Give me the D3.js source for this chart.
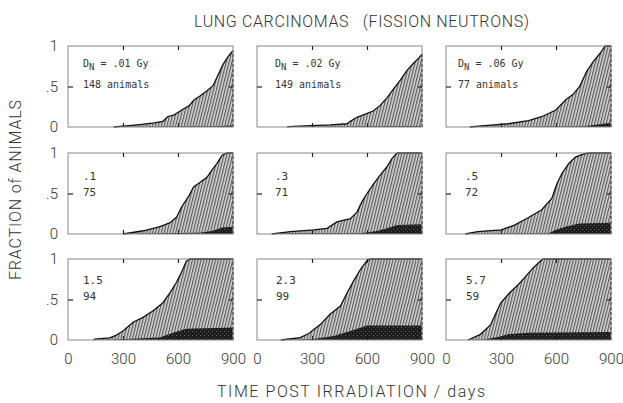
<!DOCTYPE html>
<html>
<head>
<meta charset="utf-8">
<script src="https://cdn.jsdelivr.net/npm/d3@7"></script>
<style>
  body { margin: 0; background: #fff; }
  svg text { font-family: Roboto, "DejaVu Sans", sans-serif; font-weight: 300; fill: #333; }
</style>
</head>
<body>
<svg id="chart" width="623" height="403"></svg>
<script>
const doses = [".01", ".02", ".06", ".1", ".3", ".5", "1.5", "2.3", "5.7"];
const animals = [148, 149, 77, 75, 71, 72, 94, 99, 59];
const xTicks = [0, 300, 600, 900];
const yTicks = [0, 0.5, 1];

// cumulative fraction, [day, fraction] per panel (hatched)
const totalFraction = [
  [[250,0],[300,0.01],[391,0.03],[470,0.05],[518,0.07],[545,0.13],[580,0.15],[620,0.21],[660,0.26],[690,0.34],[718,0.38],[755,0.44],[791,0.51],[818,0.64],[845,0.77],[873,0.87],[891,0.92],[900,0.94]],
  [[165,0],[173,0.005],[291,0.016],[400,0.025],[491,0.04],[509,0.07],[545,0.12],[591,0.16],[636,0.2],[673,0.27],[709,0.36],[745,0.47],[782,0.58],[818,0.7],[855,0.79],[882,0.85],[900,0.9]],
  [[130,0],[228,0.02],[340,0.04],[451,0.08],[525,0.13],[599,0.21],[655,0.34],[692,0.4],[729,0.5],[766,0.68],[804,0.81],[841,0.91],[868,1],[900,1]],
  [[300,0],[411,0.04],[502,0.09],[557,0.14],[593,0.21],[621,0.34],[657,0.46],[685,0.58],[721,0.64],[758,0.7],[785,0.79],[812,0.87],[840,0.97],[867,1],[900,1]],
  [[80,0],[182,0.03],[309,0.05],[382,0.07],[436,0.15],[509,0.19],[545,0.27],[573,0.4],[600,0.5],[636,0.62],[673,0.73],[709,0.83],[736,0.93],[764,1],[900,1]],
  [[105,0],[172,0.03],[301,0.05],[374,0.11],[448,0.2],[522,0.3],[577,0.44],[605,0.62],[633,0.75],[670,0.87],[706,0.95],[752,0.99],[780,1],[900,1]],
  [[140,0],[145,0.01],[227,0.025],[255,0.05],[300,0.11],[355,0.22],[409,0.28],[464,0.36],[518,0.46],[555,0.58],[591,0.71],[618,0.83],[645,0.97],[664,1],[900,1]],
  [[130,0],[236,0.03],[282,0.08],[345,0.19],[400,0.32],[455,0.42],[491,0.58],[527,0.73],[564,0.87],[600,0.98],[618,1],[900,1]],
  [[120,0],[188,0.07],[244,0.19],[270,0.32],[299,0.46],[346,0.58],[392,0.68],[429,0.77],[475,0.89],[512,0.97],[530,1],[900,1]]
];

// dark stippled part at the bottom
const darkFraction = [
  [[250,0],[600,0.005],[800,0.01],[900,0.02]],
  [[165,0],[500,0.005],[900,0.012]],
  [[130,0],[600,0.005],[750,0.01],[830,0.03],[880,0.045],[900,0.05]],
  [[300,0],[500,0.01],[720,0.015],[790,0.04],[840,0.08],[900,0.09]],
  [[80,0],[200,0.01],[550,0.01],[600,0.02],[660,0.04],[709,0.07],[764,0.11],[900,0.12]],
  [[105,0],[559,0.01],[596,0.05],[651,0.09],[725,0.13],[900,0.14]],
  [[140,0],[264,0.005],[500,0.03],[573,0.09],[645,0.14],[900,0.155]],
  [[130,0],[300,0.01],[418,0.05],[509,0.11],[600,0.18],[900,0.18]],
  [[120,0],[207,0.005],[290,0.04],[336,0.07],[447,0.09],[900,0.1]]
];

const svg = d3.select("#chart");

const colX = [68, 257, 446];
const rowY = [46, 153, 259];
const pw = 165, ph = 81;

const x = d3.scaleLinear().domain([0, 900]).range([0, pw]);
const y = d3.scaleLinear().domain([0, 1]).range([ph, 0]);

// fill patterns
const defs = svg.append("defs");
const hatch = defs.append("pattern")
  .attr("id", "hatch")
  .attr("patternUnits", "userSpaceOnUse")
  .attr("width", 2.8).attr("height", 3)
  .attr("patternTransform", "rotate(14)");
hatch.append("rect").attr("width", 2.8).attr("height", 3).attr("fill", "#d6d6d6");
hatch.append("rect").attr("width", 1.2).attr("height", 3).attr("fill", "#585858");

const dots = defs.append("pattern")
  .attr("id", "dots")
  .attr("patternUnits", "userSpaceOnUse")
  .attr("width", 4).attr("height", 4);
dots.append("rect").attr("width", 4).attr("height", 4).attr("fill", "#1c1c1c");
dots.append("rect").attr("x", 0).attr("y", 0).attr("width", 1).attr("height", 1).attr("fill", "#6a6a6a");
dots.append("rect").attr("x", 2).attr("y", 2).attr("width", 1).attr("height", 1).attr("fill", "#4a4a4a");

const area = d3.area().x(d => x(d[0])).y0(y(0)).y1(d => y(d[1]));
const line = d3.line().x(d => x(d[0])).y(d => y(d[1]));

doses.forEach((dose, i) => {
  const col = i % 3, row = Math.floor(i / 3);
  const g = svg.append("g").attr("transform", `translate(${colX[col]},${rowY[row]})`);
  const tot = totalFraction[i];
  const dark = darkFraction[i];

  g.append("path").datum(tot).attr("d", area).attr("fill", "url(#hatch)");
  g.append("path").datum(dark).attr("d", area).attr("fill", "url(#dots)");
  g.append("path").datum(tot).attr("d", line)
    .attr("fill", "none").attr("stroke", "#111").attr("stroke-width", 1.3);

  // dashed right closure
  g.append("line")
    .attr("x1", x(900)).attr("x2", x(900))
    .attr("y1", y(0)).attr("y2", y(tot[tot.length - 1][1]))
    .attr("stroke", "#111").attr("stroke-width", 1.2).attr("stroke-dasharray", "3,2");

  // frame
  g.append("rect").attr("width", pw).attr("height", ph)
    .attr("fill", "none").attr("stroke", "#888").attr("stroke-width", 1);

  // inward ticks
  const tickStyle = sel => {
    sel.select(".domain").remove();
    sel.selectAll("line").attr("stroke", "#222").attr("stroke-width", 1.2);
    sel.selectAll("text").remove();
  };
  g.append("g").call(d3.axisTop(x).tickValues([300, 600]).tickSize(-4)).call(tickStyle);
  g.append("g").attr("transform", `translate(0,${ph})`)
    .call(d3.axisBottom(x).tickValues([300, 600]).tickSize(-4)).call(tickStyle);
  g.append("g").call(d3.axisLeft(y).tickValues([0.5]).tickSize(-5)).call(tickStyle);
  g.append("g").attr("transform", `translate(${pw},0)`)
    .call(d3.axisRight(y).tickValues([0.5]).tickSize(-4)).call(tickStyle);

  // y tick labels on the first column
  if (col === 0) {
    const ax = g.append("g")
      .call(d3.axisLeft(y).tickValues(yTicks).tickSize(0).tickPadding(10)
        .tickFormat(d => d === 0.5 ? ".5" : String(d)));
    ax.select(".domain").remove();
    ax.selectAll("text").attr("font-size", 15).style("font-family", "Roboto, sans-serif");
  }
  // x tick labels on the bottom row
  if (row === 2) {
    const ax = g.append("g").attr("transform", `translate(0,${ph})`)
      .call(d3.axisBottom(x).tickValues(xTicks).tickSize(0).tickPadding(13));
    ax.select(".domain").remove();
    ax.selectAll("text").attr("font-size", 15).style("font-family", "Roboto, sans-serif");
  }

  // panel annotation
  const lx = [15, 18, 12, 15, 18, 19, 15, 19, 20][i];
  const ly1 = [21, 27, 25][row], ly2 = [42, 43, 41][row];
  const mono = "'DejaVu Sans Mono', monospace";
  if (row === 0) {
    const t = g.append("text").attr("x", lx).attr("y", ly1).attr("font-size", 10)
      .style("font-family", mono);
    t.append("tspan").text("D");
    t.append("tspan").attr("dy", 3).attr("font-size", 9).text("N");
    t.append("tspan").attr("dy", -3).text(` = ${dose} Gy`);
    g.append("text").attr("x", lx).attr("y", ly2).attr("font-size", 10)
      .style("font-family", mono).text(`${animals[i]} animals`);
  } else {
    g.append("text").attr("x", lx).attr("y", ly1).attr("font-size", 11)
      .style("font-family", mono).text(dose);
    g.append("text").attr("x", lx).attr("y", ly2).attr("font-size", 11)
      .style("font-family", mono).text(animals[i]);
  }
});

// titles
svg.append("text")
  .attr("x", 194).attr("y", 27)
  .attr("font-size", 16)
  .style("white-space", "pre")
  .attr("textLength", 335).attr("lengthAdjust", "spacing")
  .text("LUNG CARCINOMAS   (FISSION NEUTRONS)");

svg.append("text")
  .attr("x", 217).attr("y", 397)
  .attr("font-size", 16)
  .attr("textLength", 268).attr("lengthAdjust", "spacing")
  .text("TIME POST IRRADIATION / days");

svg.append("text")
  .attr("transform", "translate(21,280) rotate(-90)")
  .attr("font-size", 16)
  .attr("textLength", 180).attr("lengthAdjust", "spacing")
  .text("FRACTION of ANIMALS");
</script>
</body>
</html>
